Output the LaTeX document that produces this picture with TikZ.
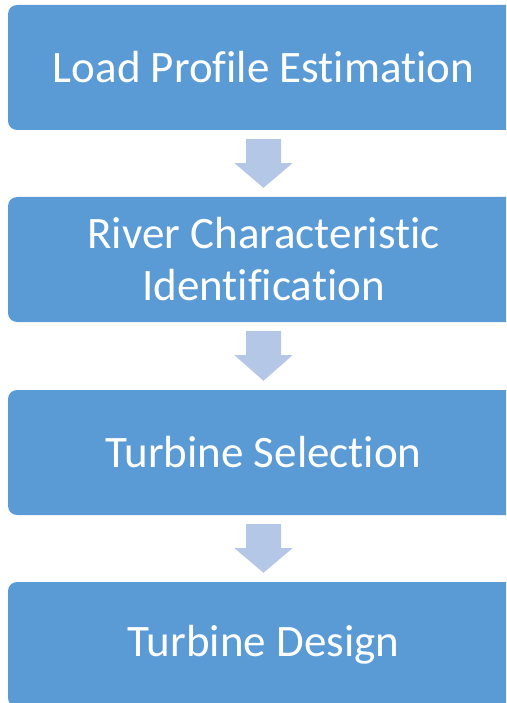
\documentclass[tikz,border=0pt]{standalone}
\usepackage{fontspec}
\setmainfont[Ligatures={NoCommon}]{Carlito}
\usetikzlibrary{calc}
\definecolor{boxblue}{HTML}{5B9BD5}
\definecolor{arrowblue}{HTML}{B4C7E7}
\tikzset{
  stepbox/.style={fill=boxblue, draw=none, rounded corners=9pt, minimum width=511pt, minimum height=125pt, text=white, align=center, inner sep=0pt, font=\fontsize{45}{52}\selectfont},
}
\begin{document}
\begin{tikzpicture}[x=1pt,y=1pt]
\useasboundingbox (0,0) rectangle (506,-703);
\begin{scope}
\clip (0,0) rectangle (506,-703);
\node[stepbox] (b1) at (263.5,-67.5) {Load Profile Estimation};
\node[stepbox] (b2) at (263.5,-259.5) {River Characteristic\\Identification};
\node[stepbox] (b3) at (263.5,-452.5) {Turbine Selection};
\node[stepbox] (b4) at (263.5,-644.5) {Turbine Design};
\end{scope}
\fill[arrowblue] ($(b1.south)+(-17.5,-9)$) -- ($(b1.south)+(17.5,-9)$) -- ($(b1.south)+(17.5,-33)$) -- ($(b1.south)+(29,-33)$) -- ($(b2.north)+(0,9)$) -- ($(b1.south)+(-29,-33)$) -- ($(b1.south)+(-17.5,-33)$) -- cycle;
\fill[arrowblue] ($(b2.south)+(-17.5,-9)$) -- ($(b2.south)+(17.5,-9)$) -- ($(b2.south)+(17.5,-33)$) -- ($(b2.south)+(29,-33)$) -- ($(b3.north)+(0,9)$) -- ($(b2.south)+(-29,-33)$) -- ($(b2.south)+(-17.5,-33)$) -- cycle;
\fill[arrowblue] ($(b3.south)+(-17.5,-9)$) -- ($(b3.south)+(17.5,-9)$) -- ($(b3.south)+(17.5,-33)$) -- ($(b3.south)+(29,-33)$) -- ($(b4.north)+(0,9)$) -- ($(b3.south)+(-29,-33)$) -- ($(b3.south)+(-17.5,-33)$) -- cycle;
\end{tikzpicture}
\end{document}
